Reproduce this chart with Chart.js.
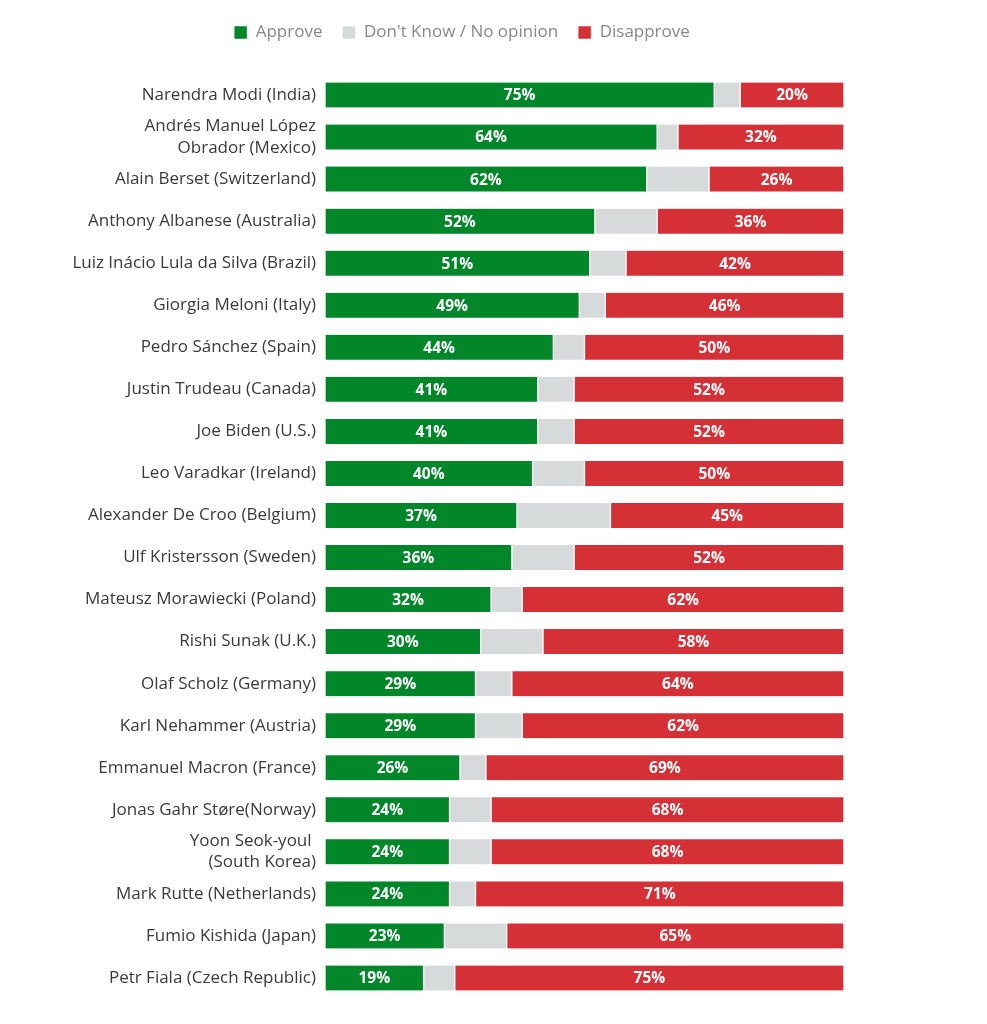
<!DOCTYPE html>
<html><head><meta charset="utf-8">
<script src="https://cdn.jsdelivr.net/npm/chart.js@4.4.0/dist/chart.umd.min.js"></script>
<style>html,body{margin:0;padding:0;background:#fff}#wrap{width:987px;height:1024px;position:relative}</style>
</head><body><div id="wrap"><canvas id="c"></canvas></div>
<script>
const leaders = [
  "Narendra Modi (India)",
  ["Andrés Manuel López", "Obrador (Mexico)"],
  "Alain Berset (Switzerland)",
  "Anthony Albanese (Australia)",
  "Luiz Inácio Lula da Silva (Brazil)",
  "Giorgia Meloni (Italy)",
  "Pedro Sánchez (Spain)",
  "Justin Trudeau (Canada)",
  "Joe Biden (U.S.)",
  "Leo Varadkar (Ireland)",
  "Alexander De Croo (Belgium)",
  "Ulf Kristersson (Sweden)",
  "Mateusz Morawiecki (Poland)",
  "Rishi Sunak (U.K.)",
  "Olaf Scholz (Germany)",
  "Karl Nehammer (Austria)",
  "Emmanuel Macron (France)",
  "Jonas Gahr Støre(Norway)",
  ["Yoon Seok-youl ", "(South Korea)"],
  "Mark Rutte (Netherlands)",
  "Fumio Kishida (Japan)",
  "Petr Fiala (Czech Republic)"
];
const approve    = [75,64,62,52,51,49,44,41,41,40,37,36,32,30,29,29,26,24,24,24,23,19];
const dontKnow   = [ 5, 4,12,12, 7, 5, 6, 7, 7,10,18,12, 6,12, 7, 9, 5, 8, 8, 5,12, 6];
const disapprove = [20,32,26,36,42,46,50,52,52,50,45,52,62,58,64,62,69,68,68,71,65,75];

const FONT = "'Open Sans', sans-serif";

const labelPlugin = {
  id: 'barLabels',
  afterDatasetsDraw(chart) {
    const ctx = chart.ctx;
    ctx.save();
    ctx.font = "bold 15.5px " + FONT;
    ctx.fillStyle = '#fff';
    ctx.textAlign = 'center';
    ctx.textBaseline = 'middle';
    [0, 2].forEach(di => {
      const meta = chart.getDatasetMeta(di);
      const data = chart.data.datasets[di].data;
      meta.data.forEach((bar, i) => {
        const cx = (bar.x + bar.base) / 2;
        ctx.fillText(data[i] + '%', cx, bar.y + 1);
      });
    });
    ctx.restore();
  }
};

const legendSpace = {
  id: 'legendSpace',
  beforeInit(chart) {
    const lg = chart.legend;
    const orig = lg.fit;
    lg.fit = function () { orig.call(this); this.height += 23; };
  },
  afterLayout(chart) {
    chart.legend.left += 20;
    chart.legend.right += 20;
  }
};

const common = { barThickness: 25, borderColor: '#ffffff', borderWidth: {left: 1, right: 1, top: 0, bottom: 0}, borderSkipped: false };

new Chart(document.getElementById('c'), {
  type: 'bar',
  data: {
    labels: leaders,
    datasets: [
      Object.assign({ label: 'Approve', data: approve, backgroundColor: '#02862a' }, common),
      Object.assign({ label: "Don't Know / No opinion", data: dontKnow, backgroundColor: '#d7dadb' }, common),
      Object.assign({ label: 'Disapprove', data: disapprove, backgroundColor: '#d63037' }, common)
    ]
  },
  options: {
    indexAxis: 'y',
    responsive: true,
    maintainAspectRatio: false,
    animation: false,
    layout: { padding: { left: 40, right: 143, top: 4, bottom: 25 } },
    scales: {
      x: { stacked: true, min: 0, max: 100, display: false },
      y: {
        stacked: true,
        grid: { display: false, drawTicks: false },
        border: { display: false },
        ticks: { autoSkip: false, color: '#3a3a3a', font: { family: FONT, size: 17, lineHeight: 1.25 }, padding: 9 },
        afterFit(scale) { scale.width = 285; }
      }
    },
    plugins: {
      legend: {
        position: 'top',
        labels: { color: '#888', font: { family: FONT, size: 17 }, boxWidth: 13, boxHeight: 13, padding: 20 }
      },
      tooltip: { enabled: false }
    }
  },
  plugins: [labelPlugin, legendSpace]
});
</script></body></html>
